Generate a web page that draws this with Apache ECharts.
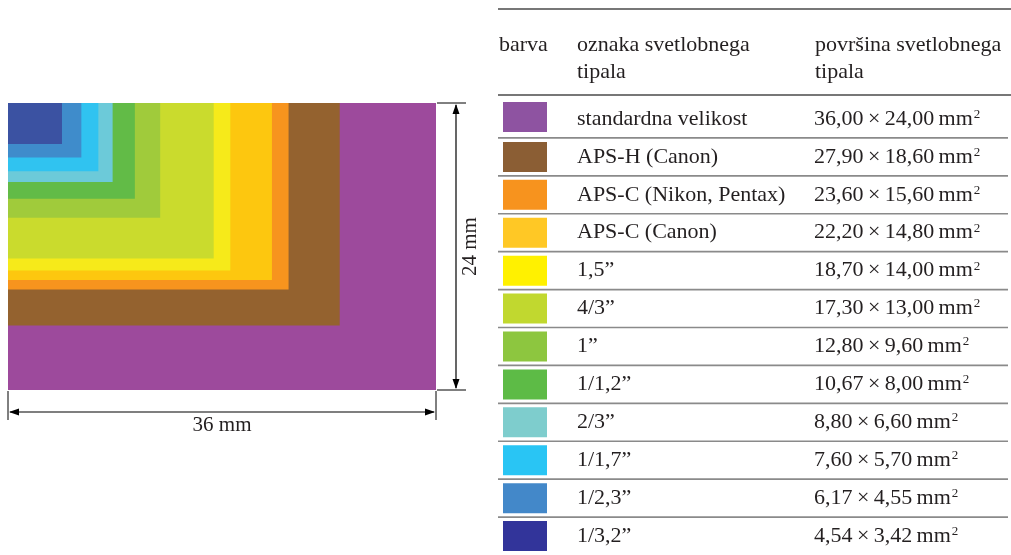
<!DOCTYPE html>
<html><head><meta charset="utf-8">
<script src="https://cdn.jsdelivr.net/npm/echarts@6/dist/echarts.min.js"></script>
<style>html,body{margin:0;padding:0;background:#fff}#c{width:1011px;height:555px}</style>
</head><body><div id="c"></div>
<script>
const labels = ['standardna velikost','APS-H (Canon)','APS-C (Nikon, Pentax)','APS-C (Canon)','1,5”','4/3”','1”','1/1,2”','2/3”','1/1,7”','1/2,3”','1/3,2”'];
const widths = [36.00, 27.90, 23.60, 22.20, 18.70, 17.30, 12.80, 10.67, 8.80, 7.60, 6.17, 4.54];
const heights = [24.00, 18.60, 15.60, 14.80, 14.00, 13.00, 9.60, 8.00, 6.60, 5.70, 4.55, 3.42];
const rectColors = ['#9d4a9c','#94622f','#f7941e','#fdc70f','#f6ea1a','#cadb2d','#a0cb3b','#62bb47','#6ccad9','#30c3f0','#3f8ccb','#3b52a2'];
const swatchColors = ['#8e53a1','#8b5e34','#f7931e','#ffc825','#fff100','#c1d82f','#8dc63f','#5dbb46','#7ecdcd','#29c5f4','#4388c9','#32349a'];
const headers = ['barva', 'oznaka svetlobnega\ntipala', 'površina svetlobnega\ntipala'];
const dimLabels = ['36 mm', '24 mm'];

const FONT = '"Liberation Serif", "DejaVu Serif", serif';
const TXT = '#231f20';
const FS = 22;

function fmt(v){ return v.toFixed(2).replace('.', ','); }

const chart = echarts.init(document.getElementById('c'), null, {renderer:'canvas'});
const rectData = widths.map((w,i)=>[w, heights[i], i]);
const rowData = labels.map((l,i)=>[0, i]);

chart.setOption({
  animation:false,
  grid:[
    {left:8, top:103, width:428, height:287},
    {left:495, top:100, width:516, height:455}
  ],
  xAxis:[
    {gridIndex:0, type:'value', min:0, max:36, show:false},
    {gridIndex:1, type:'value', min:0, max:1, show:false}
  ],
  yAxis:[
    {gridIndex:0, type:'value', min:0, max:24, inverse:true, show:false},
    {gridIndex:1, type:'category', data:labels, inverse:true, show:false}
  ],
  series:[
    {
      type:'custom', xAxisIndex:0, yAxisIndex:0, data:rectData,
      renderItem:function(params, api){
        const w = api.value(0), h = api.value(1), i = api.value(2);
        const p0 = api.coord([0,0]);
        const p1 = api.coord([w,h]);
        return {type:'rect', shape:{x:p0[0], y:p0[1], width:p1[0]-p0[0], height:p1[1]-p0[1]},
          style:{fill:rectColors[i]}};
      }
    },
    {
      type:'custom', xAxisIndex:1, yAxisIndex:1, data:rowData,
      renderItem:function(params, api){
        const i = api.value(1);
        const c = api.coord([0, i]);
        const band = api.size([0,1])[1];
        const x0 = params.coordSys.x;
        const sy = i === 0 ? c[1]-17 : c[1]-15;
        const children = [
          {type:'rect', shape:{x:x0+8, y:sy, width:44, height:30}, style:{fill:swatchColors[i]}},
          {type:'text', x:x0+82, y:c[1], style:{text:labels[i], fill:TXT, font:FS+'px '+FONT, verticalAlign:'middle', align:'left'}},
          {type:'text', x:x0+319, y:c[1], style:{
            text:'{v|'+fmt(widths[i])+'\u2009×\u2009'+fmt(heights[i])+'\u2009mm}{s|2}',
            fill:TXT, verticalAlign:'middle', align:'left',
            rich:{
              v:{fontSize:FS, fontFamily:FONT, fill:TXT, lineHeight:24},
              s:{fontSize:13, fontFamily:FONT, fill:TXT, lineHeight:24, verticalAlign:'top', padding:[1,0,0,1]}
            }}}
        ];
        if(i < labels.length-1){
          children.push({type:'line', shape:{x1:x0+3, y1:c[1]+band/2, x2:x0+513, y2:c[1]+band/2}, style:{stroke:'#8a8a8a', lineWidth:1.6}});
        }
        return {type:'group', children:children};
      }
    }
  ]
});

const tl = chart.convertToPixel({gridIndex:0}, [0,0]);
const br = chart.convertToPixel({gridIndex:0}, [36,24]);
const dimX = br[0]+20, dimY = br[1]+22;
function arrow(x,y,dir){
  const L=10, W=3.5;
  let pts;
  if(dir==='up') pts=[[x,y],[x-W,y+L],[x+W,y+L]];
  if(dir==='down') pts=[[x,y],[x-W,y-L],[x+W,y-L]];
  if(dir==='left') pts=[[x,y],[x+L,y-W],[x+L,y+W]];
  if(dir==='right') pts=[[x,y],[x-L,y-W],[x-L,y+W]];
  return {type:'polygon', shape:{points:pts}, style:{fill:'#000'}};
}
const hdr = headers.map(h=>h.split('\n'));
const hx = [499, 577, 815];
const graphics = [
  {type:'line', shape:{x1:br[0]+1, y1:tl[1], x2:br[0]+30, y2:tl[1]}, style:{stroke:'#000', lineWidth:1}},
  {type:'line', shape:{x1:br[0]+1, y1:br[1], x2:br[0]+30, y2:br[1]}, style:{stroke:'#000', lineWidth:1}},
  {type:'line', shape:{x1:dimX, y1:tl[1]+2, x2:dimX, y2:br[1]-2}, style:{stroke:'#000', lineWidth:1.2}},
  arrow(dimX, tl[1]+1, 'up'), arrow(dimX, br[1]-1, 'down'),
  {type:'text', x:dimX+14, y:(tl[1]+br[1])/2, rotation:Math.PI/2,
    style:{text:dimLabels[1], font:'21px '+FONT, fill:TXT, align:'center', verticalAlign:'middle'}},
  {type:'line', shape:{x1:tl[0], y1:br[1]+1, x2:tl[0], y2:br[1]+30}, style:{stroke:'#000', lineWidth:1}},
  {type:'line', shape:{x1:br[0], y1:br[1]+1, x2:br[0], y2:br[1]+30}, style:{stroke:'#000', lineWidth:1}},
  {type:'line', shape:{x1:tl[0]+2, y1:dimY, x2:br[0]-2, y2:dimY}, style:{stroke:'#000', lineWidth:1.2}},
  arrow(tl[0]+1, dimY, 'left'), arrow(br[0]-1, dimY, 'right'),
  {type:'text', x:(tl[0]+br[0])/2, y:dimY+13, style:{text:dimLabels[0], font:'21px '+FONT, fill:TXT, align:'center', verticalAlign:'middle'}},
  {type:'line', shape:{x1:498, y1:9, x2:1011, y2:9}, style:{stroke:'#777', lineWidth:2}},
  {type:'line', shape:{x1:498, y1:95, x2:1011, y2:95}, style:{stroke:'#777', lineWidth:2}}
];
hdr.forEach((lines, k)=>{
  lines.forEach((t, j)=>{
    graphics.push({type:'text', x:hx[k], y:45+27*j, style:{text:t, font:FS+'px '+FONT, fill:TXT, align:'left', verticalAlign:'middle'}});
  });
});
chart.setOption({graphic:graphics});
</script></body></html>
